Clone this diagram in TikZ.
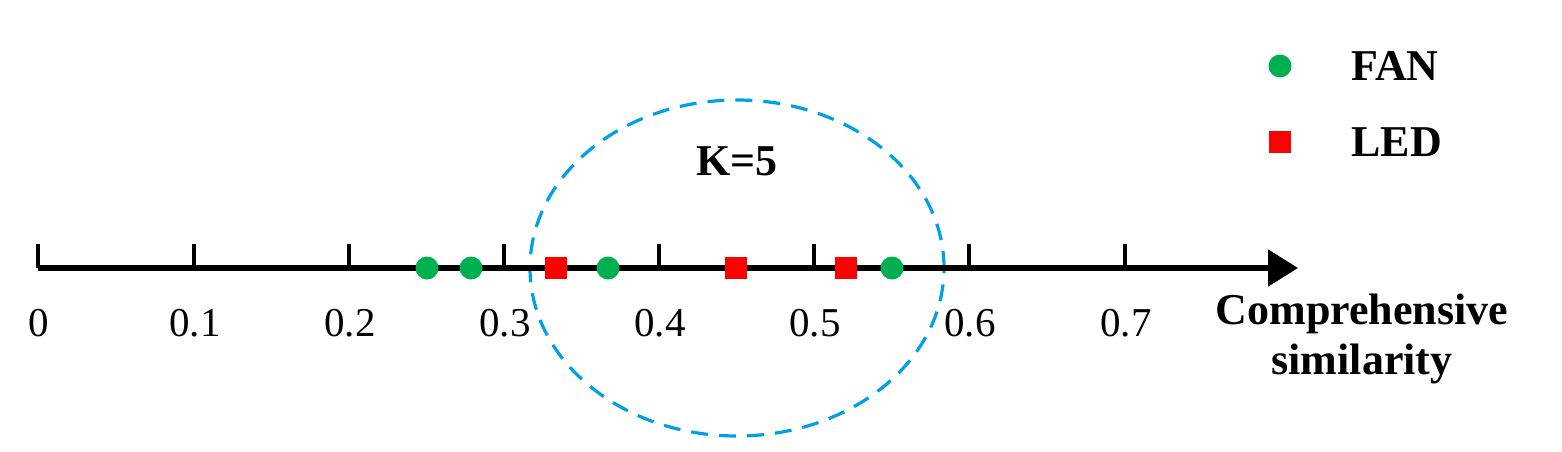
\documentclass[tikz,border=0pt]{standalone}
\usepackage{fontspec}
\setmainfont{Liberation Serif}
\usetikzlibrary{arrows.meta,shapes.geometric}
\definecolor{fangreen}{RGB}{0,176,80}
\definecolor{ledred}{RGB}{255,0,0}
\definecolor{kblue}{RGB}{0,160,233}
\tikzset{
  fandot/.style={circle,fill=fangreen,inner sep=0pt,minimum size=11.5pt},
  ledsq/.style={rectangle,fill=ledred,inner sep=0pt,minimum size=11pt},
  axisline/.style={line width=2.6pt,black},
  tickline/.style={line width=2.4pt,black},
  ticklab/.style={anchor=base,font=\fontsize{20.5}{24}\selectfont,inner sep=0pt},
  boldlab/.style={font=\fontsize{22}{26}\selectfont\bfseries,inner sep=0pt},
  kcircle/.style={draw=kblue,line width=1.6pt,dash pattern=on 8.5pt off 5.5pt}
}
\begin{document}
\begin{tikzpicture}[x=0.5pt,y=-0.5pt]
\useasboundingbox (0,0) rectangle (1562,451);
% K=5 dashed ellipse
\node[kcircle,ellipse,minimum width=207pt,minimum height=168pt,inner sep=0pt] (kell) at (737,268) {};
% axis
\coordinate (a0) at (38,268);
\coordinate (aend) at (1298,268);
\draw[axisline,-{Triangle[length=15pt,width=18pt]}] (a0) -- (aend);
% ticks and labels
\foreach \i/\lab/\xx in {0/0/38,1/0.1/194,2/0.2/349,3/0.3/504,4/0.4/659,5/0.5/814,6/0.6/969,7/0.7/1125}{
  \coordinate (t\i) at (\xx,268);
  \coordinate (tt\i) at (\xx,244);
  \draw[tickline] (t\i) -- (tt\i);
  \node[ticklab] (l\i) at (\xx+1,336) {\lab};
}
% data points
\node[fandot] (f1) at (427,268) {};
\node[fandot] (f2) at (471,268) {};
\node[ledsq]  (e1) at (556,268) {};
\node[fandot] (f3) at (608,268) {};
\node[ledsq]  (e2) at (736,268) {};
\node[ledsq]  (e3) at (846,268) {};
\node[fandot] (f4) at (892,268) {};
% labels
\node[boldlab,anchor=base] (k) at (737,175) {K=5};
\node[boldlab,anchor=base] (xl1) at (1362,324) {Comprehensive};
\node[boldlab,anchor=base] (xl2) at (1362,374) {similarity};
% legend
\node[fandot] (lg1) at (1280,66) {};
\node[ledsq]  (lg2) at (1280,142) {};
\node[boldlab,anchor=base west] (lfan) at (1351,80) {FAN};
\node[boldlab,anchor=base west] (lled) at (1351,156) {LED};
\end{tikzpicture}
\end{document}
